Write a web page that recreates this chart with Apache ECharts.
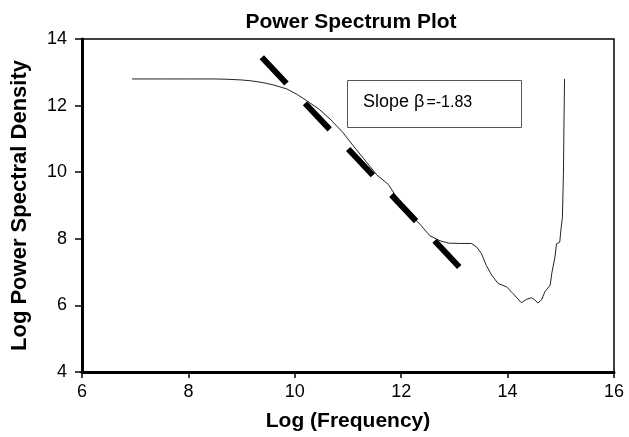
<!DOCTYPE html>
<html>
<head>
<meta charset="utf-8">
<script src="https://cdn.jsdelivr.net/npm/echarts@6/dist/echarts.min.js"></script>
<style>
    html, body { margin: 0; padding: 0; background: #fff; }
    #chart { width: 629px; height: 437px; }
</style>
</head>
<body>
<div id="chart"></div>
<script>
// 功率谱曲线 (log frequency, log power)
var logFreq = [6.94, 7.5, 8.0, 8.5, 8.74, 9.0, 9.2, 9.4, 9.6, 9.85, 10.05, 10.22, 10.45, 10.66, 10.9, 11.09,
    11.3, 11.54, 11.76, 11.88, 12.1, 12.35, 12.54, 12.73, 12.89, 13.1, 13.32, 13.42, 13.51, 13.6, 13.7, 13.82,
    13.98, 14.1, 14.26, 14.35, 14.45, 14.51, 14.57, 14.64, 14.7, 14.8, 14.83, 14.89, 14.92, 14.98, 15.0, 15.03,
    15.05, 15.06, 15.07];
var logPower = [12.8, 12.8, 12.8, 12.8, 12.79, 12.77, 12.74, 12.69, 12.62, 12.5, 12.33, 12.15, 11.9, 11.6, 11.2, 10.81,
    10.4, 9.92, 9.63, 9.33, 8.85, 8.44, 8.09, 7.94, 7.87, 7.86, 7.86, 7.75, 7.55, 7.2, 6.91, 6.66,
    6.56, 6.36, 6.08, 6.18, 6.23, 6.17, 6.07, 6.17, 6.41, 6.61, 6.96, 7.45, 7.85, 7.9, 8.24, 8.64,
    10.0, 11.5, 12.8];

// 拟合直线的两个端点
var fitX = [9.38, 13.14];
var fitY = [13.45, 7.07];

var xTicks = [6, 8, 10, 12, 14, 16];
var yTicks = [4, 6, 8, 10, 12, 14];
var slopeLabel = ['Slope β', '=-1.83'];

var font = "'Liberation Sans', Arial, sans-serif";

var chart = echarts.init(document.getElementById('chart'));

var curve = logFreq.map(function (x, i) { return [x, logPower[i]]; });
var fit = fitX.map(function (x, i) { return [x, fitY[i]]; });

var option = {
    animation: false,
    backgroundColor: '#fff',
    title: {
        text: 'Power Spectrum Plot',
        left: 346,
        top: 7,
        textAlign: 'center',
        textStyle: { fontFamily: font, fontSize: 21, fontWeight: 'bold', color: '#000' }
    },
    grid: {
        left: 82, right: 15, top: 39, bottom: 61,
        show: true, borderColor: '#000', borderWidth: 1.5
    },
    xAxis: {
        type: 'value',
        min: xTicks[0], max: xTicks[xTicks.length - 1], interval: 2,
        name: 'Log (Frequency)',
        nameLocation: 'middle',
        nameGap: 39,
        nameTextStyle: { fontFamily: font, fontSize: 21, fontWeight: 'bold', color: '#000' },
        axisLine: { lineStyle: { color: '#000', width: 3 } },
        axisTick: { length: 6, lineStyle: { color: '#000', width: 1.5 } },
        axisLabel: { fontFamily: font, fontSize: 18, color: '#000', margin: 11 },
        splitLine: { show: false }
    },
    yAxis: {
        type: 'value',
        min: yTicks[0], max: yTicks[yTicks.length - 1], interval: 2,
        name: 'Log Power Spectral Density',
        nameLocation: 'middle',
        nameGap: 51,
        nameTextStyle: { fontFamily: font, fontSize: 22, fontWeight: 'bold', color: '#000' },
        axisLine: { show: true, lineStyle: { color: '#000', width: 3 } },
        axisTick: { show: true, length: 7, lineStyle: { color: '#000', width: 1.5 } },
        axisLabel: { fontFamily: font, fontSize: 18, color: '#000', margin: 15 },
        splitLine: { show: false }
    },
    graphic: [
        {
            type: 'rect',
            shape: { x: 347.5, y: 80.5, width: 174, height: 47 },
            style: { fill: '#fff', stroke: '#555', lineWidth: 1 },
            z: 10
        },
        {
            type: 'text',
            x: 363, y: 102,
            style: {
                text: '{a|' + slopeLabel[0] + '}{b|' + slopeLabel[1] + '}',
                verticalAlign: 'middle',
                rich: {
                    a: { fontFamily: font, fontSize: 18, fill: '#000' },
                    b: { fontFamily: font, fontSize: 16, fill: '#000', padding: [2, 0, 0, 2] }
                }
            },
            z: 11
        }
    ],
    series: [
        {
            name: 'spectrum',
            type: 'line',
            data: curve,
            showSymbol: false,
            symbol: 'none',
            lineStyle: { color: '#222', width: 1 },
            z: 2
        },
        {
            name: 'fit',
            type: 'line',
            data: fit,
            showSymbol: false,
            symbol: 'none',
            lineStyle: { color: '#000', width: 6, type: [36, 27], cap: 'butt' },
            z: 3
        }
    ]
};
chart.setOption(option);
</script>
</body>
</html>
